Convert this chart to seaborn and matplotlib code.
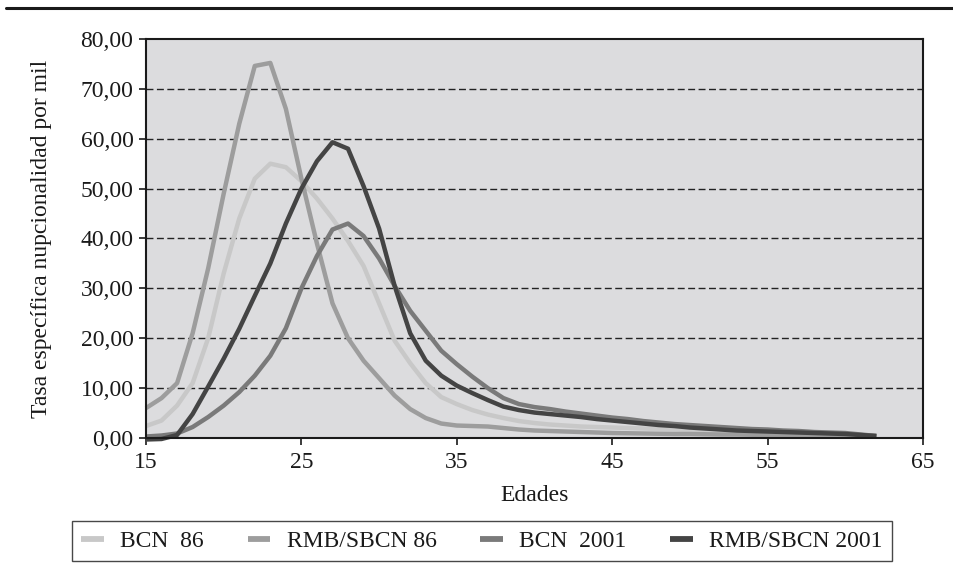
import matplotlib
matplotlib.use("Agg")
import matplotlib.pyplot as plt
from matplotlib.lines import Line2D
import seaborn as sns
import pandas as pd

# ages 15..62
edades = list(range(15, 63))

bcn_86 = [2.4, 3.5, 6.5, 11.0, 20.0, 33.0, 44.0, 52.0, 55.0, 54.3,
          51.5, 48.0, 44.0, 39.5, 34.5, 27.0, 19.5, 15.0, 11.0, 8.2,
          6.8, 5.6, 4.7, 4.0, 3.4, 3.0, 2.7, 2.5, 2.3, 2.2,
          2.1, 2.0, 1.9, 1.8, 1.7, 1.6, 1.5, 1.4, 1.3, 1.2,
          1.1, 1.0, 0.9, 0.8, 0.7, 0.7, 0.6, 0.5]
rmb_86 = [6.0, 8.0, 11.0, 21.0, 34.0, 49.0, 63.0, 74.6, 75.2, 66.0,
          52.0, 39.0, 27.0, 20.0, 15.5, 12.0, 8.5, 5.8, 4.0, 2.9,
          2.5, 2.4, 2.3, 2.0, 1.7, 1.5, 1.4, 1.3, 1.2, 1.1,
          1.0, 0.95, 0.9, 0.85, 0.8, 0.8, 0.75, 0.7, 0.7, 0.65,
          0.6, 0.6, 0.55, 0.5, 0.45, 0.4, 0.35, 0.3]
bcn_2001 = [0.3, 0.5, 0.9, 2.2, 4.2, 6.5, 9.2, 12.5, 16.5, 22.0,
            30.0, 36.5, 41.8, 43.0, 40.5, 36.0, 30.5, 25.5, 21.5, 17.5,
            14.8, 12.3, 10.0, 8.0, 6.8, 6.2, 5.8, 5.3, 4.9, 4.5,
            4.1, 3.8, 3.4, 3.1, 2.8, 2.6, 2.4, 2.2, 2.0, 1.8,
            1.7, 1.5, 1.4, 1.2, 1.1, 1.0, 0.7, 0.4]
rmb_2001 = [-0.3, -0.2, 0.6, 4.8, 10.3, 15.9, 21.9, 28.5, 35.0, 43.0,
            50.0, 55.5, 59.3, 58.0, 50.5, 42.0, 30.5, 21.0, 15.5, 12.5,
            10.5, 9.0, 7.6, 6.3, 5.6, 5.1, 4.8, 4.5, 4.2, 3.8,
            3.5, 3.2, 2.9, 2.6, 2.4, 2.1, 1.9, 1.7, 1.5, 1.4,
            1.3, 1.2, 1.1, 1.0, 0.9, 0.8, 0.6, 0.4]

series = ["BCN  86", "RMB/SBCN 86", "BCN  2001", "RMB/SBCN 2001"]
colores = ["#c8c8c8", "#9d9d9d", "#7a7a7a", "#444444"]

y_ticks = [0, 10, 20, 30, 40, 50, 60, 70, 80]
x_ticks = [15, 25, 35, 45, 55, 65]

df = pd.DataFrame({"Edad": edades, series[0]: bcn_86, series[1]: rmb_86,
                   series[2]: bcn_2001, series[3]: rmb_2001})
df_long = df.melt(id_vars="Edad", var_name="Serie", value_name="Tasa")

sns.set_style("ticks")
plt.rcParams["font.family"] = ["Liberation Serif", "DejaVu Serif"]
plt.rcParams["font.size"] = 17

fig = plt.figure(figsize=(9.54, 5.74), dpi=100)
ax = fig.add_axes([146 / 954, 1 - 438 / 574, 777 / 954, 399 / 574])
ax.set_facecolor("#dcdcde")

sns.lineplot(data=df_long, x="Edad", y="Tasa", hue="Serie", hue_order=series,
             palette=colores, linewidth=3.2, ax=ax, legend=False,
             clip_on=False, solid_joinstyle="round", solid_capstyle="butt")

ax.set_xlim(15, 65)
ax.set_ylim(0, 80)
ax.set_xticks(x_ticks)
ax.set_xticklabels([str(t) for t in x_ticks], fontsize=17)
ax.set_yticks(y_ticks)
ax.set_yticklabels([f"{t},00" for t in y_ticks], fontsize=17)

for t in y_ticks[1:-1]:
    ax.axhline(t, color="#222222", linewidth=1.0, linestyle=(0, (5, 2.5)), zorder=0.5)

for side in ["left", "right", "top", "bottom"]:
    ax.spines[side].set_color("#1a1a1a")
    ax.spines[side].set_linewidth(1.5)
ax.tick_params(axis="y", direction="out", length=5, width=1.2, pad=4, colors="#1a1a1a")
ax.tick_params(axis="x", direction="out", length=5, width=1.2, pad=5, colors="#1a1a1a")
for lab in ax.get_xticklabels() + ax.get_yticklabels():
    lab.set_color("#1a1a1a")

ax.set_xlabel("Edades", fontsize=17, labelpad=9, color="#1a1a1a")
ax.set_ylabel("Tasa específica nupcionalidad por mil", fontsize=17, color="#1a1a1a")
ax.yaxis.set_label_coords(-0.121, 0.5)

handles = [Line2D([0], [0], color=c, linewidth=4.2, solid_capstyle="butt") for c in colores]
leg = fig.legend(handles, series, loc="center", bbox_to_anchor=(482 / 954, 1 - 541 / 574),
                 ncol=4, fontsize=17, frameon=True, fancybox=False, shadow=False,
                 handlelength=0.95, handletextpad=0.7, columnspacing=1.85, borderpad=0.4,
                 borderaxespad=0)
leg.get_frame().set_edgecolor("#1a1a1a")
leg.get_frame().set_linewidth(1.0)
for txt in leg.get_texts():
    txt.set_color("#1a1a1a")

# heavy rule at the top of the page
fig.add_artist(Line2D([6 / 954, 1.0], [1 - 7.5 / 574, 1 - 7.5 / 574],
                      transform=fig.transFigure, color="#1a1a1a", linewidth=2.2))

fig.savefig("out.png", dpi=100, facecolor="white")
